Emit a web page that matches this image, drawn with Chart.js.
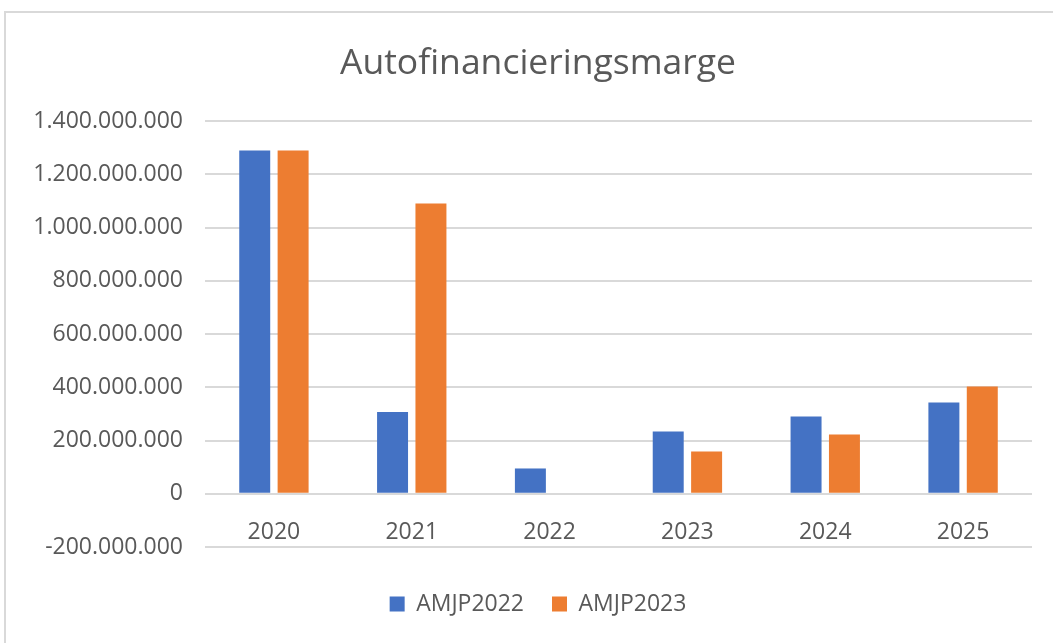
<!DOCTYPE html>
<html>
<head>
<meta charset="utf-8">
<script src="https://cdn.jsdelivr.net/npm/chart.js@4"></script>
<style>
  html, body { margin: 0; padding: 0; background: #fff; overflow: hidden; }
  body { width: 1053px; height: 643px; position: relative; }
  .frame { position: absolute; left: 4px; top: 11px; width: 1100px; height: 700px; border: 2px solid #d9d9d9; }
  .wrap { position: absolute; left: 0; top: 0; width: 1076px; height: 643px; }
</style>
</head>
<body>
<div class="frame"></div>
<div class="wrap"><canvas id="myChart" width="1076" height="643"></canvas></div>
<script>
const categories = ['2020', '2021', '2022', '2023', '2024', '2025'];
const amjp2022 = [1290000000, 307000000, 95000000, 234000000, 290000000, 343000000];
const amjp2023 = [1290000000, 1090000000, 0, 159000000, 223000000, 403000000];
const yTicks = [-200000000, 0, 200000000, 400000000, 600000000, 800000000, 1000000000, 1200000000, 1400000000];

const textColor = '#595959';
const font = 'Open Sans';

function formatNl(v) {
  const s = String(Math.abs(v)).replace(/\B(?=(\d{3})+(?!\d))/g, '.');
  return v < 0 ? '-' + s : s;
}

const ctx = document.getElementById('myChart').getContext('2d');

new Chart(ctx, {
  type: 'bar',
  data: {
    labels: categories,
    datasets: [{
      label: 'AMJP2022',
      data: amjp2022,
      backgroundColor: '#4472C4'
    }, {
      label: 'AMJP2023',
      data: amjp2023,
      backgroundColor: '#ED7D31'
    }]
  },
  options: {
    responsive: false,
    animation: false,
    categoryPercentage: 0.557,
    barPercentage: 0.807,
    layout: {
      padding: { left: 0, right: 0, top: 0, bottom: 17.5 }
    },
    plugins: {
      title: {
        display: true,
        text: 'Autofinancieringsmarge',
        color: textColor,
        font: { family: font, size: 35.5, weight: 'normal', lineHeight: 1.2 },
        padding: { top: 42.5, bottom: 36 }
      },
      legend: {
        position: 'bottom',
        title: {
          display: true,
          text: '',
          font: { size: 16, lineHeight: 1 },
          padding: { top: 1.5, bottom: 0 }
        },
        labels: {
          color: textColor,
          boxWidth: 15,
          boxHeight: 15,
          padding: 28,
          font: { family: font, size: 23 }
        }
      },
      tooltip: { enabled: false }
    },
    scales: {
      x: {
        position: { y: 0 },
        grid: { display: false },
        border: { display: false },
        ticks: {
          color: textColor,
          padding: 17,
          font: { family: font, size: 23 }
        }
      },
      y: {
        min: yTicks[0],
        max: yTicks[yTicks.length - 1],
        afterFit: function (scale) { scale.width = 205; },
        afterBuildTicks: function (scale) {
          scale.ticks = yTicks.map(v => ({ value: v }));
        },
        grid: { color: '#d9d9d9', lineWidth: 2, drawTicks: false },
        border: { display: false },
        ticks: {
          color: textColor,
          padding: 22,
          font: { family: font, size: 23 },
          callback: function (value) { return formatNl(value); }
        }
      },
      // empty right-hand spacer so the plot ends where the reference does
      yRight: {
        position: 'right',
        afterFit: function (scale) { scale.width = 44; },
        grid: { display: false },
        border: { display: false },
        ticks: { display: false }
      }
    }
  }
});
</script>
</body>
</html>
